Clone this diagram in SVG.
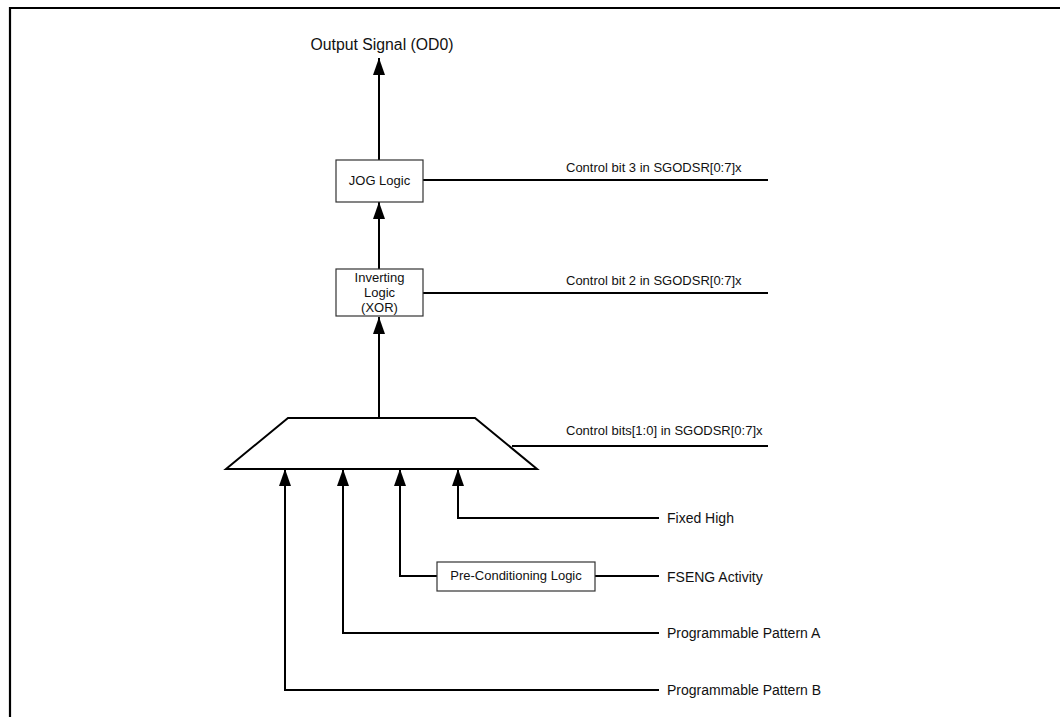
<svg xmlns="http://www.w3.org/2000/svg" width="1060" height="717" viewBox="0 0 1060 717">
<style>
.t{font-family:"Liberation Sans",Arial,sans-serif;fill:#111}
.s{font-size:13px}
.m{font-size:14px}
.box{fill:#fff;stroke:#333;stroke-width:1.2}
.w{fill:none;stroke:#000;stroke-width:2}
</style>
<defs>
<marker id="ah" markerUnits="userSpaceOnUse" markerWidth="18" markerHeight="12" refX="17" refY="6" orient="auto">
<path d="M0,0 L17,6 L0,12 z" fill="#000"/>
</marker>
</defs>
<rect width="1060" height="717" fill="#fff"/>
<g id="frame"><path d="M10,717 V8 H1060" fill="none" stroke="#000" stroke-width="2.2"/></g>
<g id="connectors">
<line class="w" x1="379" y1="160" x2="379" y2="58" marker-end="url(#ah)"/>
<line class="w" x1="379" y1="269" x2="379" y2="202" marker-end="url(#ah)"/>
<line class="w" x1="379" y1="418" x2="379" y2="317" marker-end="url(#ah)"/>
<line class="w" x1="423" y1="180" x2="768" y2="180"/>
<line class="w" x1="423" y1="293" x2="768" y2="293"/>
<line class="w" x1="512" y1="446" x2="768" y2="446"/>
<polyline class="w" points="659,518 458,518 458,469" marker-end="url(#ah)"/>
<polyline class="w" points="437,576 400,576 400,469" marker-end="url(#ah)"/>
<line class="w" x1="595" y1="576" x2="659" y2="576"/>
<polyline class="w" points="659,633 343,633 343,469" marker-end="url(#ah)"/>
<polyline class="w" points="659,690 285,690 285,469" marker-end="url(#ah)"/>
</g>
<g id="output"><text class="t" x="382" y="50" font-size="15.8" text-anchor="middle">Output Signal (OD0)</text></g>
<g id="jog">
<rect class="box" x="336" y="160" width="87" height="42"/>
<text class="t s" x="379.5" y="185" text-anchor="middle">JOG Logic</text>
</g>
<g id="inverting">
<rect class="box" x="336" y="269" width="87" height="47"/>
<text class="t s" x="379.5" y="282" text-anchor="middle">Inverting</text>
<text class="t s" x="379.5" y="297" text-anchor="middle">Logic</text>
<text class="t s" x="379.5" y="312" text-anchor="middle">(XOR)</text>
</g>
<g id="mux"><polygon points="226,469 288,418 475,418 537,469" fill="#fff" stroke="#000" stroke-width="2"/></g>
<g id="precond">
<rect class="box" x="437" y="562" width="158" height="29"/>
<text class="t s" x="516" y="580" text-anchor="middle">Pre-Conditioning Logic</text>
</g>
<g id="labels">
<text class="t s" x="566" y="172">Control bit 3 in SGODSR[0:7]x</text>
<text class="t s" x="566" y="285">Control bit 2 in SGODSR[0:7]x</text>
<text class="t s" x="566" y="435">Control bits[1:0] in SGODSR[0:7]x</text>
<text class="t m" x="667" y="523">Fixed High</text>
<text class="t m" x="667" y="582">FSENG Activity</text>
<text class="t m" x="667" y="638">Programmable Pattern A</text>
<text class="t m" x="667" y="695">Programmable Pattern B</text>
</g>
</svg>
